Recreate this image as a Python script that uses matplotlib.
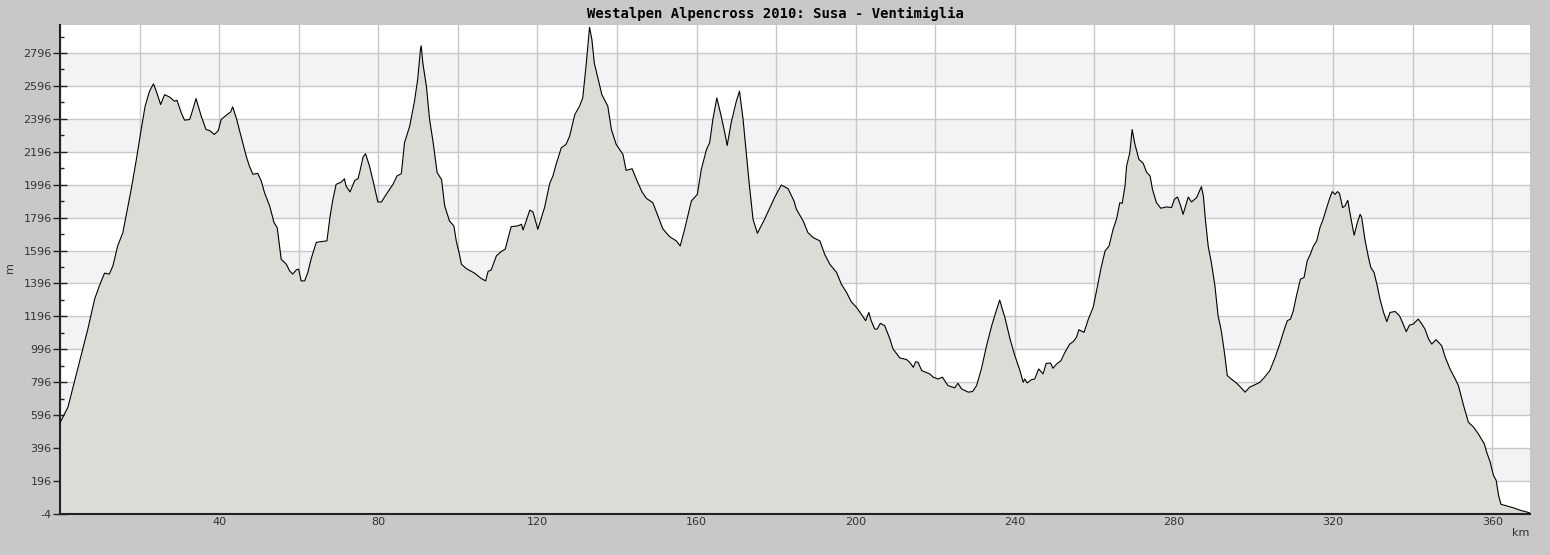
import numpy as np
import matplotlib
matplotlib.use("Agg")
import matplotlib.pyplot as plt
from matplotlib.ticker import MultipleLocator, FixedLocator, FuncFormatter

# profile (km, m)
km = [0.0, 0.1, 2.0, 3.6, 5.3, 7.0, 8.7, 9.9, 11.2, 12.4, 13.3, 14.5, 15.8, 16.6, 17.9, 19.2,
      20.4, 21.4, 22.5, 23.5, 24.2, 25.3, 26.3, 27.5, 28.8, 29.4, 30.5, 31.3, 32.6, 33.4, 34.2,
      35.5, 36.7, 37.6, 38.8, 39.8, 40.5, 41.8, 42.9, 43.4, 44.3, 45.6, 46.8, 47.6, 48.5, 49.7,
      50.6, 51.4, 52.7, 53.8, 54.6, 55.6, 56.9, 57.7, 58.5, 59.4, 60.0, 60.6, 61.5, 62.3, 63.1,
      64.4, 65.2, 67.1, 67.9, 68.6, 69.4, 70.7, 71.5, 71.9, 72.9, 74.1, 74.9, 75.3, 76.2, 76.8,
      77.8, 78.8, 79.9, 80.8, 82.0, 83.7, 84.7, 85.8, 86.6, 87.9, 89.1, 89.9, 90.6, 90.8, 91.2,
      92.1, 92.9, 93.8, 94.8, 95.9, 96.7, 97.9, 99.0, 99.6, 100.3, 100.9, 102.1, 104.2, 105.9,
      107.0, 107.6, 108.4, 109.7, 110.9, 111.9, 113.4, 115.1, 116.0, 116.4, 118.1, 118.9, 120.1,
      121.8, 123.1, 123.9, 124.7, 126.0, 127.2, 128.1, 129.4, 130.6, 131.4, 132.3, 133.1, 133.7,
      134.3, 135.2, 136.2, 137.7, 138.6, 139.8, 141.5, 142.3, 143.8, 144.9, 146.3, 147.4, 149.0,
      150.3, 151.5, 153.2, 154.9, 155.9, 157.0, 158.7, 160.2, 161.2, 162.5, 163.3, 164.1, 165.1,
      166.2, 167.1, 167.7, 168.7, 170.0, 170.8, 171.7, 172.5, 173.3, 174.2, 175.3, 177.1, 179.6,
      181.3, 183.0, 184.5, 185.1, 186.8, 188.0, 189.3, 191.0, 192.2, 193.5, 195.2, 196.4, 197.7,
      198.9, 200.2, 201.4, 202.5, 203.3, 203.9, 204.8, 205.4, 206.2, 207.3, 208.6, 209.4, 211.1,
      212.8, 213.6, 214.5, 215.1, 215.7, 216.6, 218.6, 219.5, 220.7, 221.8, 223.2, 224.9, 225.7,
      226.6, 228.3, 229.4, 230.4, 231.6, 232.9, 234.2, 235.2, 236.2, 237.5, 238.8, 240.0, 241.3,
      242.1, 242.5, 243.1, 244.2, 245.0, 246.0, 247.1, 247.9, 249.0, 249.6, 250.5, 251.6, 252.6,
      253.8, 254.7, 255.5, 256.1, 257.4, 258.5, 259.7, 260.8, 261.7, 262.7, 263.7, 264.7, 265.6,
      266.4, 267.0, 267.7, 268.1, 268.9, 269.5, 270.2, 271.2, 272.3, 273.1, 274.0, 274.6, 275.6,
      276.7, 278.1, 279.4, 280.1, 280.9, 281.7, 282.3, 283.6, 284.4, 285.7, 286.9, 287.4, 287.9,
      288.6, 289.4, 290.3, 291.1, 291.9, 292.8, 293.4, 294.4, 295.7, 296.9, 297.9, 299.0, 300.3,
      301.6, 302.8, 304.1, 305.3, 306.6, 307.5, 308.5, 309.3, 310.0, 310.8, 311.8, 312.7, 313.5,
      314.3, 315.0, 315.9, 316.7, 317.5, 318.4, 319.2, 319.8, 320.5, 321.1, 321.6, 322.4, 323.0,
      323.7, 324.3, 325.3, 326.1, 326.8, 327.2, 328.0, 328.9, 329.5, 330.3, 331.1, 331.8, 332.7,
      333.5, 334.3, 335.6, 336.7, 337.5, 338.4, 339.2, 340.2, 341.4, 342.3, 343.1, 344.0, 344.8,
      345.9, 347.3, 348.2, 349.4, 350.7, 351.5, 352.8, 354.0, 355.3, 356.5, 358.0, 358.6, 359.5,
      360.3, 361.0, 361.6, 362.2, 363.7, 365.4, 367.0, 368.7, 369.5]
elev = [545, 554, 645, 796, 958, 1119, 1301, 1382, 1459, 1453, 1503, 1624, 1705, 1806, 1968, 2150,
        2331, 2473, 2564, 2608, 2564, 2483, 2543, 2529, 2503, 2509, 2432, 2388, 2392, 2453, 2519,
        2412, 2331, 2325, 2301, 2325, 2392, 2418, 2438, 2469, 2402, 2281, 2170, 2109, 2059, 2065,
        2018, 1948, 1867, 1766, 1735, 1543, 1513, 1473, 1453, 1479, 1483, 1412, 1412, 1463, 1543,
        1645, 1649, 1655, 1806, 1907, 1998, 2012, 2032, 1988, 1952, 2022, 2032, 2069, 2166, 2184,
        2109, 2008, 1891, 1891, 1937, 1998, 2049, 2063, 2251, 2352, 2503, 2634, 2816, 2840, 2735,
        2594, 2392, 2251, 2069, 2028, 1867, 1776, 1746, 1655, 1584, 1513, 1487, 1459, 1426,
        1412, 1469, 1479, 1564, 1590, 1604, 1741, 1746, 1756, 1721, 1842, 1830, 1725,
        1857, 2004, 2049, 2119, 2220, 2241, 2291, 2422, 2473, 2523, 2735, 2952, 2877,
        2735, 2644, 2543, 2473, 2331, 2241, 2180, 2083, 2093, 2028, 1952, 1913, 1887,
        1806, 1729, 1681, 1655, 1624, 1725, 1897, 1937, 2089, 2210, 2251, 2392, 2523,
        2412, 2311, 2234, 2372, 2503, 2564, 2392, 2190, 1988, 1786, 1701, 1786, 1917,
        1994, 1972, 1897, 1847, 1776, 1705, 1675, 1655, 1574, 1513, 1463, 1392, 1342,
        1285, 1251, 1210, 1170, 1220, 1170, 1119, 1119, 1154, 1140, 1059, 998, 944,
        934, 917, 887, 921, 917, 867, 847, 827, 816, 827, 776, 762, 790,
        756, 736, 740, 776, 877, 1018, 1140, 1220, 1295, 1190, 1059, 958, 867,
        796, 816, 792, 812, 816, 877, 847, 911, 913, 881, 907, 927, 978,
        1028, 1043, 1069, 1115, 1099, 1180, 1251, 1382, 1493, 1594, 1624, 1725, 1790,
        1887, 1883, 1988, 2109, 2190, 2331, 2241, 2150, 2125, 2073, 2049, 1968, 1887,
        1853, 1861, 1857, 1907, 1921, 1867, 1816, 1921, 1891, 1917, 1984, 1927, 1786,
        1624, 1523, 1382, 1200, 1109, 958, 837, 816, 792, 762, 736, 766, 780,
        796, 827, 867, 938, 1028, 1099, 1170, 1180, 1230, 1321, 1422, 1432, 1533,
        1574, 1620, 1655, 1735, 1786, 1857, 1917, 1954, 1937, 1954, 1944, 1857, 1867,
        1901, 1816, 1689, 1766, 1816, 1796, 1665, 1553, 1493, 1463, 1382, 1301, 1220,
        1164, 1220, 1226, 1200, 1156, 1103, 1143, 1150, 1180, 1150, 1119, 1059, 1028,
        1055, 1018, 948, 877, 816, 776, 655, 554, 524, 483, 423, 372, 311,
        231, 200, 109, 55, 45, 33, 19, 8, 2]

title = "Westalpen Alpencross 2010: Susa - Ventimiglia"
y_ticks = list(range(-4, 2797, 200))
y_min, y_max = -4, 2966
x_max = 369.5

bg = "#c8c8c8"
fig = plt.figure(figsize=(15.5, 5.55), dpi=100, facecolor=bg)
ax = fig.add_axes([60 / 1550, 41 / 555, 1470 / 1550, 489 / 555])
ax.set_facecolor("white")

# alternating bands
for lo in range(196, 2797, 400):
    ax.axhspan(lo, lo + 200, color="#f3f2f5", zorder=0, lw=0)

ax.fill_between(km, elev, y_min, color="#dcdbd6", zorder=2, lw=0)
ax.plot(km, elev, color="black", lw=0.8, zorder=3)

ax.set_xlim(0, x_max)
ax.set_ylim(y_min, y_max)

ax.xaxis.set_major_locator(MultipleLocator(20))
ax.xaxis.set_minor_locator(MultipleLocator(10))
ax.xaxis.set_major_formatter(FuncFormatter(lambda v, p: "%d" % v if v % 40 == 0 and v > 0 else ""))
ax.yaxis.set_major_locator(FixedLocator(y_ticks))
ax.yaxis.set_minor_locator(FixedLocator([t + 100 for t in y_ticks]))
ax.yaxis.set_major_formatter(FuncFormatter(lambda v, p: "%d" % v))

ax.grid(True, which="major", color="#c8c8c8", lw=1.0, zorder=1)
ax.set_axisbelow(True)

ax.tick_params(axis="x", which="major", direction="in", length=5, width=1, colors="#222222",
               labelsize=8, labelcolor="#333333", pad=2)
ax.tick_params(axis="x", which="minor", direction="in", length=3, width=1, colors="#222222")
ax.tick_params(axis="y", which="major", direction="inout", length=10, width=1, colors="#222222",
               labelsize=8, labelcolor="#333333", pad=1)
ax.tick_params(axis="y", which="minor", direction="in", length=3, width=1, colors="#222222")

for side in ["left", "bottom"]:
    ax.spines[side].set_color("#222222")
    ax.spines[side].set_linewidth(1.5)
for side in ["top", "right"]:
    ax.spines[side].set_visible(False)

fig.text(0.5, 1 - 14 / 555, title, ha="center", va="center", family="DejaVu Sans Mono",
         fontsize=10, fontweight="bold", color="black")
fig.text(10 / 1550, 1 - 268 / 555, "m", rotation=90, ha="center", va="center", fontsize=8,
         color="#333333")
fig.text(1521 / 1550, 1 - 533 / 555, "km", ha="center", va="center", fontsize=8, color="#333333")

fig.savefig("out.png", dpi=100, facecolor=bg)
